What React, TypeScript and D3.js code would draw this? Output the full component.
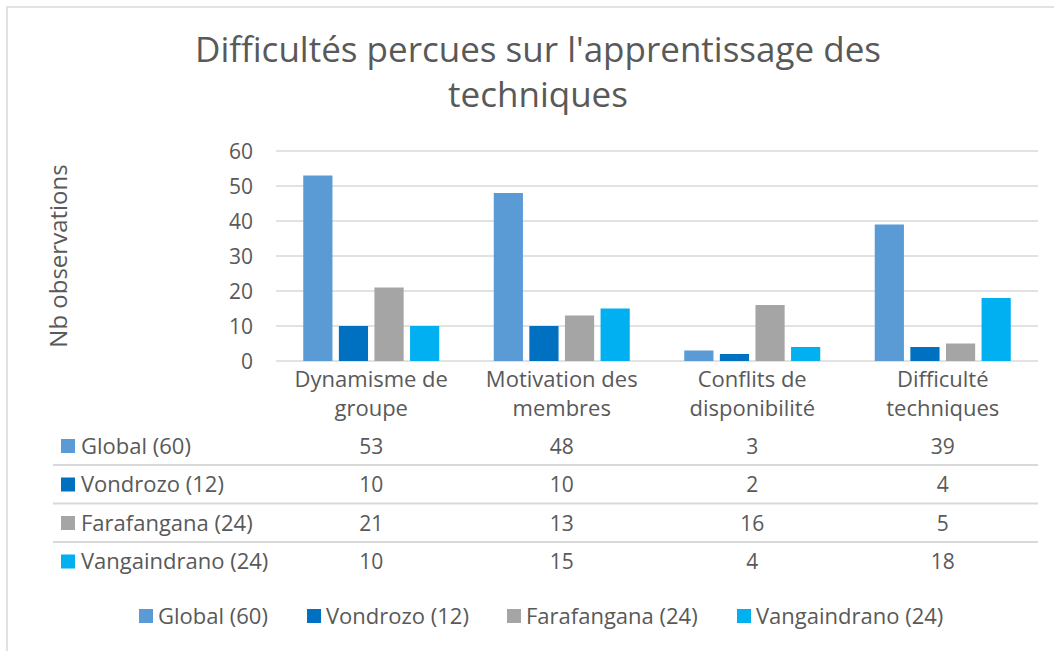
import React from "react";
import { scaleBand, scaleLinear } from "d3";

const categories = [
  ["Dynamisme de", "groupe"],
  ["Motivation des", "membres"],
  ["Conflits de", "disponibilité"],
  ["Difficulté", "techniques"],
];
const seriesNames = ["Global (60)", "Vondrozo (12)", "Farafangana (24)", "Vangaindrano (24)"];
const seriesColors = ["#5B9BD5", "#0070C0", "#A5A5A5", "#00B0F0"];
const globalValues = [53, 48, 3, 39];
const vondrozoValues = [10, 10, 2, 4];
const farafanganaValues = [21, 13, 16, 5];
const vangaindranoValues = [10, 15, 4, 18];
const yTicks = [0, 10, 20, 30, 40, 50, 60];

const allValues = [globalValues, vondrozoValues, farafanganaValues, vangaindranoValues];

const W = 1054;
const H = 651;
const FONT = "'Open Sans', sans-serif";
const TEXT = "#595959";
const GRID = "#D9D9D9";

export default function App() {
  const catKeys = categories.map((c) => c.join(" "));
  const x0 = scaleBand().domain(catKeys).range([276, 1038]);
  const bw = x0.bandwidth();
  const groupW = 136;
  const x1 = scaleBand()
    .domain(seriesNames)
    .range([(bw - groupW) / 2, (bw + groupW) / 2])
    .paddingInner(0.18);
  const y = scaleLinear().domain([0, 60]).range([361, 151]);

  const rowY = (i: number) => 446 + i * 38.5;
  // bottom legend key positions
  const legendX = [139, 307, 507, 737];

  return (
    <svg width={W} height={H} style={{ position: "absolute", left: 0, top: 0 }} fontFamily={FONT}>
      <rect x={0} y={0} width={W} height={H} fill="#fff" />
      <rect x={7} y={7} width={W} height={H} fill="#fff" stroke={GRID} strokeWidth={1.5} />
      <text x={538} y={62} textAnchor="middle" fontSize={35} fill={TEXT}>
        Difficultés percues sur l'apprentissage des
      </text>
      <text x={538} y={107} textAnchor="middle" fontSize={35} fill={TEXT}>
        techniques
      </text>
      <text
        transform={`translate(67, 256) rotate(-90)`}
        textAnchor="middle"
        fontSize={24}
        fill={TEXT}
      >
        Nb observations
      </text>
      {yTicks.map((t) => (
        <g key={t}>
          <line x1={276} x2={1038} y1={y(t)} y2={y(t)} stroke={GRID} strokeWidth={1.5} />
          <text x={253} y={y(t)} dy="0.36em" textAnchor="end" fontSize={21} fill={TEXT}>
            {t}
          </text>
        </g>
      ))}
      {catKeys.map((c, ci) => (
        <g key={c} transform={`translate(${x0(c)},0)`}>
          {seriesNames.map((s, si) => (
            <rect
              key={s}
              x={x1(s)}
              width={x1.bandwidth()}
              y={y(allValues[si][ci])}
              height={y(0) - y(allValues[si][ci])}
              fill={seriesColors[si]}
            />
          ))}
          {categories[ci].map((line, li) => (
            <text
              key={li}
              x={bw / 2}
              y={387 + li * 29}
              textAnchor="middle"
              fontSize={22}
              fill={TEXT}
            >
              {line}
            </text>
          ))}
          {seriesNames.map((s, si) => (
            <text
              key={s}
              x={bw / 2}
              y={rowY(si)}
              dy="0.36em"
              textAnchor="middle"
              fontSize={21}
              fill={TEXT}
            >
              {allValues[si][ci]}
            </text>
          ))}
        </g>
      ))}
      {seriesNames.map((s, si) => (
        <g key={s}>
          {si > 0 && (
            <line
              x1={53}
              x2={1038}
              y1={rowY(si) - 19.5}
              y2={rowY(si) - 19.5}
              stroke={GRID}
              strokeWidth={2}
            />
          )}
          <rect x={61} y={rowY(si) - 7} width={14} height={14} fill={seriesColors[si]} />
          <text x={81} y={rowY(si)} dy="0.36em" fontSize={22} fill={TEXT}>
            {s}
          </text>
        </g>
      ))}
      {seriesNames.map((s, si) => (
        <g key={s}>
          <rect x={legendX[si]} y={609} width={14} height={14} fill={seriesColors[si]} />
          <text x={legendX[si] + 19} y={616} dy="0.36em" fontSize={22} fill={TEXT}>
            {s}
          </text>
        </g>
      ))}
    </svg>
  );
}
